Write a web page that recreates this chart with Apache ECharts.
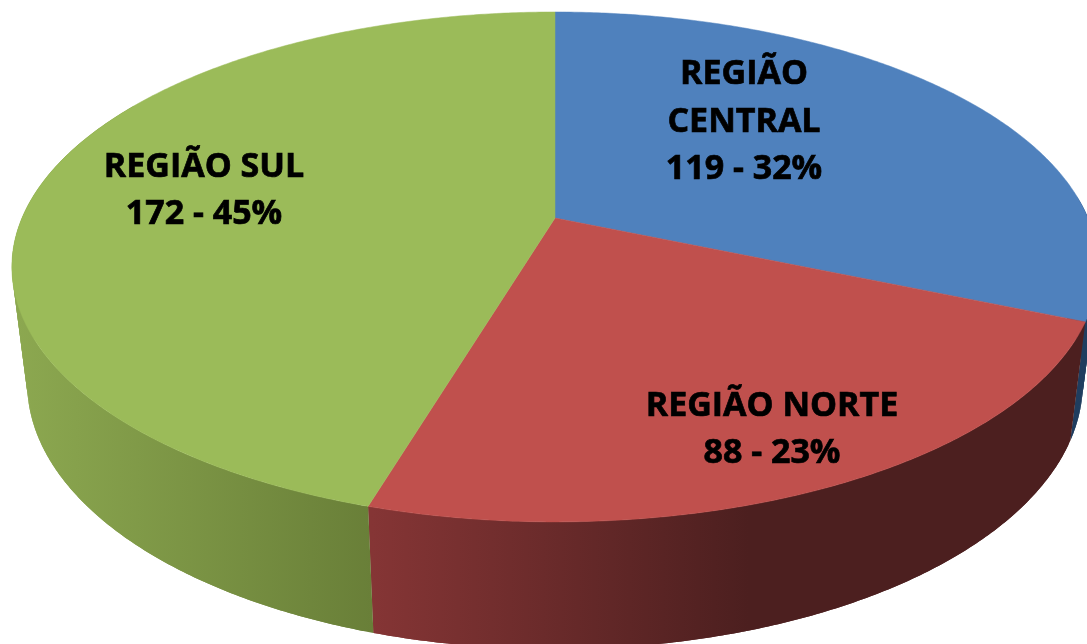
<!DOCTYPE html>
<html>
<head>
<meta charset="utf-8">
<style>html,body{margin:0;padding:0;background:#fff}#chart{width:1087px;height:644px}</style>
<script src="https://cdn.jsdelivr.net/npm/echarts@6/dist/echarts.min.js"></script>
</head>
<body>
<div id="chart"></div>
<script>
// Data
const categories = ['REGIÃO\nCENTRAL', 'REGIÃO NORTE', 'REGIÃO SUL'];
const values = [119, 88, 172];
const percentLabels = ['32%', '23%', '45%'];

// Styling and layout (not data)
const topColors = ['#4f81bd', '#c0504d', '#9bbb59'];
const wallStops = [
  [[0, '#1f3d5f'], [1, '#1f3d5f']],
  [[0, '#853535'], [0.6, '#4c1f1f'], [1, '#4c1f1f']],
  [[0, '#8ca850'], [1, '#697f38']]
];
const wallSpans = [[1060, 1090], [372, 1000], [15, 372]];
const labelAnchors = [[744, 122], [772, 430], [204, 191]];
const persp = -0.192;
const topRim = {cx: 555, cy: 218, a: 533, A: 203.7};
const baseRim = {cx: 555, cy: 332, a: 518, A: 192.5};
const WALL_FROM = 85, WALL_TO = 300, WALL_STEP = 1;

const total = values.reduce((s, v) => s + v, 0);

function project(rim, deg) {
  const t = deg * Math.PI / 180;
  const u = Math.sin(t), v = -Math.cos(t), w = 1 + persp * v;
  return [rim.cx + rim.a * u / w, (rim.A * v + rim.cy) / w];
}
function arc(rim, from, to) {
  const pts = [], n = Math.max(2, Math.ceil(Math.abs(to - from) * 2));
  for (let i = 0; i <= n; i++) pts.push(project(rim, from + (to - from) * i / n));
  return pts;
}

function renderSlice(params, api) {
  const i = params.dataIndex;
  let before = 0;
  for (let k = 0; k < i; k++) before += values[k];
  const from = before / total * 360;
  const to = (before + api.value(1)) / total * 360;
  const children = [];
  const wFrom = Math.max(from, WALL_FROM), wTo = Math.min(to, WALL_TO);
  if (wTo > wFrom) {
    const span = wallSpans[i];
    const paint = {
      type: 'linear', global: true, x: span[0], y: 0, x2: span[1], y2: 0,
      colorStops: wallStops[i].map(s => ({offset: s[0], color: s[1]}))
    };
    const n = Math.ceil((wTo - wFrom) / WALL_STEP);
    const step = (wTo - wFrom) / n;
    for (let k = 0; k < n; k++) {
      // each strip runs over its neighbour so no seams show between them
      const a = wFrom + step * k, b = Math.min(wTo, a + step * 2);
      children.push({
        type: 'polygon', z2: 1,
        shape: {points: arc(topRim, a, b).concat(arc(baseRim, a, b).reverse())},
        style: {fill: paint}
      });
    }
  }
  children.push({
    type: 'polygon', z2: 2,
    shape: {points: [[topRim.cx, topRim.cy]].concat(arc(topRim, from, to))},
    style: {fill: topColors[i], stroke: topColors[i], lineWidth: 0.5}
  });
  children.push({
    type: 'text', z2: 3,
    x: labelAnchors[i][0], y: labelAnchors[i][1],
    style: {
      text: categories[i] + '\n' + api.value(1) + ' - ' + percentLabels[i],
      fill: '#000', stroke: '#000', lineWidth: 0.7, align: 'center', verticalAlign: 'middle',
      font: 'bold 34px "Open Sans"', lineHeight: 47.5
    }
  });
  return {type: 'group', children};
}

const chart = echarts.init(document.getElementById('chart'), null, {renderer: 'canvas'});
chart.setOption({
  animation: false,
  backgroundColor: '#ffffff',
  series: [{
    type: 'custom',
    coordinateSystem: 'none',
    renderItem: renderSlice,
    silent: true,
    clip: false,
    data: categories.map((c, i) => ({name: c, value: [i, values[i]]}))
  }]
});
</script>
</body>
</html>
